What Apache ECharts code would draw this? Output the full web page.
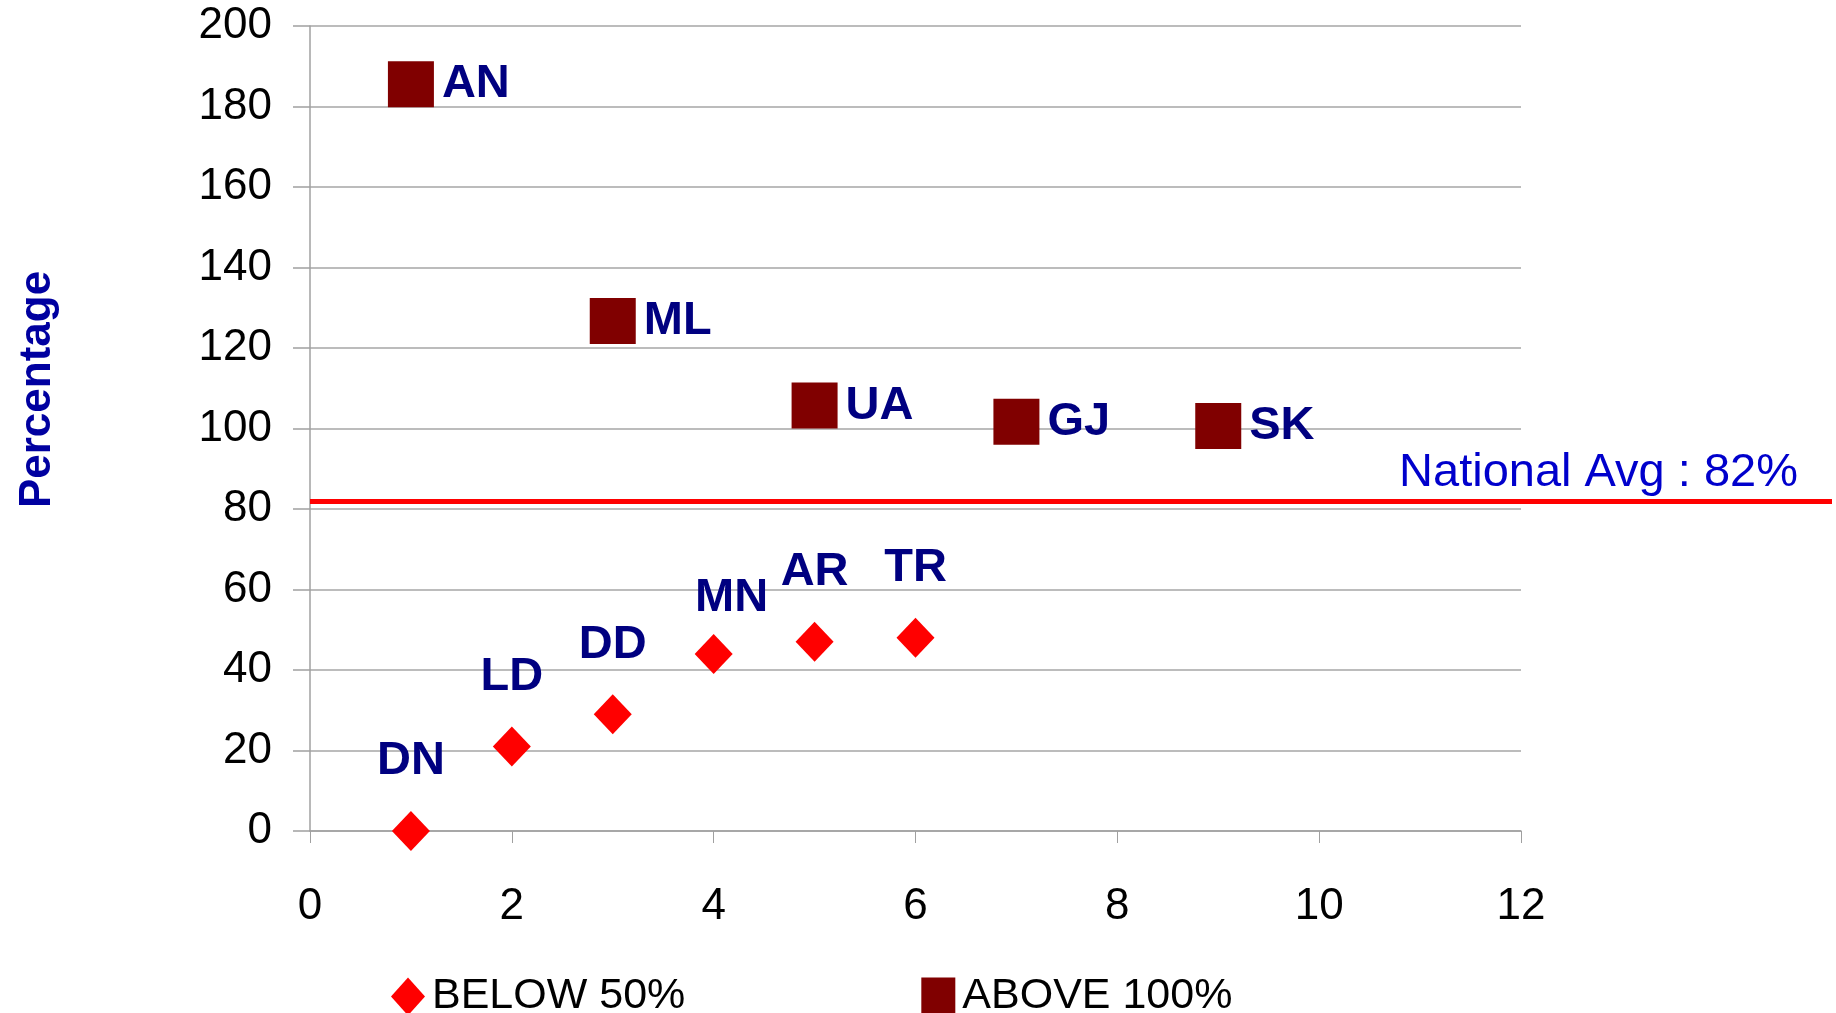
<!DOCTYPE html>
<html>
<head>
<meta charset="utf-8">
<script src="https://cdn.jsdelivr.net/npm/echarts@6/dist/echarts.min.js"></script>
<style>
  html, body { margin: 0; padding: 0; background: #fff; }
  #chart { width: 1836px; height: 1013px; }
</style>
</head>
<body>
<div id="chart"></div>
<script>
// states below 50%
let belowNames = ['DN', 'LD', 'DD', 'MN', 'AR', 'TR'];
let belowX = [1, 2, 3, 4, 5, 6];
let belowY = [0, 21, 29, 44, 47, 48];

// states above 100%
let aboveNames = ['AN', 'ML', 'UA', 'GJ', 'SK'];
let aboveX = [1, 3, 5, 7, 9];
let aboveY = [185.5, 126.7, 105.7, 101.7, 100.6];

let nationalAvg = 82;
let xTicks = [0, 12, 2];
let yTicks = [0, 200, 20];

let font = '"Liberation Sans", Arial, sans-serif';
let labelColor = '#000080';

let belowData = belowNames.map(function(n, i){
    let item = { name: n, value: [belowX[i], belowY[i]] };
    if(n == 'MN'){
        // this one sits a bit closer and to the right
        item.label = { distance: 12, offset: [18, 0] };
    }
    return item;
});
let aboveData = aboveNames.map(function(n, i){
    return { name: n, value: [aboveX[i], aboveY[i]] };
});

let chartDom = document.getElementById('chart');
let myChart = echarts.init(chartDom);
let option = {
    backgroundColor: '#ffffff',
    animation: false,
    grid: { left: 310, right: 315, top: 26, bottom: 182, containLabel: false },
    legend: {
        left: 386,
        top: 970,
        itemWidth: 34,
        itemHeight: 38,
        itemGap: 236,
        textStyle: { fontFamily: font, fontSize: 43, color: '#000', padding: [0, 0, 0, 2] },
        data: [
            { name: 'BELOW 50%', icon: 'diamond' },
            { name: 'ABOVE 100%', icon: 'rect' }
        ]
    },
    xAxis: {
        type: 'value',
        min: xTicks[0], max: xTicks[1], interval: xTicks[2],
        axisLine: { show: true, lineStyle: { color: '#a0a0a0', width: 1.5 } },
        axisTick: { show: true, length: 12, lineStyle: { color: '#a0a0a0' } },
        axisLabel: { margin: 54, fontFamily: font, fontSize: 44, color: '#000' },
        splitLine: { show: false }
    },
    yAxis: {
        type: 'value',
        min: yTicks[0], max: yTicks[1], interval: yTicks[2],
        name: 'Percentage',
        nameLocation: 'middle',
        nameRotate: 90,
        nameGap: 250,
        nameTextStyle: { fontFamily: font, fontSize: 44, fontWeight: 'bold', color: '#0000a0', padding: [0, 0, 0, 78] },
        axisLine: { show: true, lineStyle: { color: '#a0a0a0', width: 1.5 } },
        axisTick: { show: true, length: 17, lineStyle: { color: '#a0a0a0', width: 1.5 } },
        axisLabel: { margin: 38, fontFamily: font, fontSize: 44, color: '#000' },
        splitLine: { show: true, lineStyle: { color: '#a6a6a6', width: 1.5 } }
    },
    series: [
        {
            name: 'BELOW 50%',
            type: 'scatter',
            symbol: 'diamond',
            symbolSize: [38, 40],
            itemStyle: { color: '#ff0000', opacity: 1 },
            label: {
                show: true,
                position: 'top',
                distance: 26,
                formatter: '{b}',
                fontFamily: font,
                fontSize: 47,
                fontWeight: 'bold',
                color: labelColor
            },
            data: belowData,
            markLine: {
                silent: true,
                symbol: 'none',
                lineStyle: { color: '#ff0000', width: 5, type: 'solid', opacity: 1 },
                label: {
                    show: true,
                    position: 'insideEndTop',
                    formatter: 'National Avg : ' + nationalAvg + '%',
                    fontFamily: font,
                    fontSize: 47,
                    color: '#0000cc',
                    distance: 4,
                    padding: [0, 30, 0, 0]
                },
                data: [[{ xAxis: xTicks[0], yAxis: nationalAvg }, { x: 1832, yAxis: nationalAvg }]]
            }
        },
        {
            name: 'ABOVE 100%',
            type: 'scatter',
            symbol: 'rect',
            symbolSize: 46,
            itemStyle: { color: '#800000', opacity: 1 },
            label: {
                show: true,
                position: 'right',
                distance: 8,
                formatter: '{b}',
                fontFamily: font,
                fontSize: 47,
                fontWeight: 'bold',
                color: labelColor
            },
            data: aboveData
        }
    ]
};
myChart.setOption(option);
window.addEventListener('resize', function(){
    myChart.resize();
});
</script>
</body>
</html>
